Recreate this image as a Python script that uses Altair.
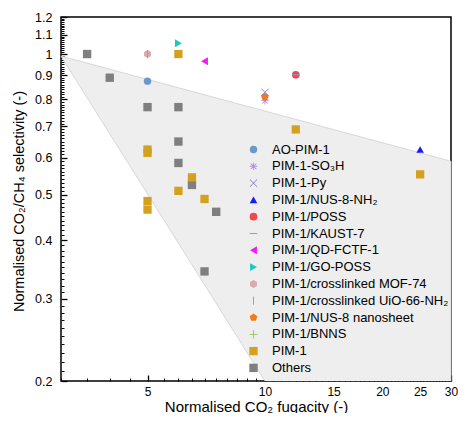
import altair as alt
import pandas as pd

# ---------------- data ----------------
cats = ["AO-PIM-1", "PIM-1-SO₃H", "PIM-1-Py", "PIM-1/NUS-8-NH₂", "PIM-1/POSS",
        "PIM-1/KAUST-7", "PIM-1/QD-FCTF-1", "PIM-1/GO-POSS", "PIM-1/crosslinked MOF-74",
        "PIM-1/crosslinked UiO-66-NH₂", "PIM-1/NUS-8 nanosheet", "PIM-1/BNNS", "PIM-1", "Others"]

others_x = [3.5, 4.0, 5.0, 6.0, 6.0, 6.0, 6.5, 7.5, 7.0]
others_y = [1.0, 0.89, 0.77, 0.77, 0.65, 0.585, 0.525, 0.46, 0.343]

pim1_x = [5, 5, 5, 5, 6, 6, 6.5, 7, 12, 25]
pim1_y = [0.625, 0.615, 0.485, 0.465, 1.0, 0.51, 0.545, 0.49, 0.69, 0.553]

single_cat = ["AO-PIM-1", "PIM-1/crosslinked MOF-74", "PIM-1/crosslinked UiO-66-NH₂",
              "PIM-1/GO-POSS", "PIM-1/QD-FCTF-1", "PIM-1-SO₃H", "PIM-1/NUS-8 nanosheet",
              "PIM-1-Py", "PIM-1/POSS", "PIM-1/KAUST-7", "PIM-1/NUS-8-NH₂"]
single_x = [5, 5, 5, 6, 7, 10, 10, 10, 12, 12, 25]
single_y = [0.875, 1.0, 1.0, 1.055, 0.965, 0.795, 0.81, 0.828, 0.903, 0.903, 0.625]

# shaded region vertices (drawing order)
poly_x = [10, 3, 30, 30]
poly_y = [0.2, 0.99, 0.59, 0.2]

x_major = [5, 10, 15, 20, 25, 30]
y_major = [0.2, 0.3, 0.4, 0.5, 0.6, 0.7, 0.8, 0.9, 1.0, 1.1, 1.2]

# ---------------- tables ----------------
pts = pd.DataFrame({
    "x": others_x + pim1_x + single_x,
    "y": others_y + pim1_y + single_y,
    "cat": ["Others"] * len(others_x) + ["PIM-1"] * len(pim1_x) + single_cat,
})
poly = pd.DataFrame({"x": poly_x, "y": poly_y, "i": list(range(len(poly_x)))})

x_minor = [v / 2 for v in range(6, 61) if (v / 2) not in x_major]
y_minor = [round(v / 100, 2) for v in range(21, 120) if v % 10 != 0]

# ---------------- styles ----------------
F = "Liberation Sans"
colors = ["#6a98c8", "#b48ee8", "#7b7bc0", "#1a1aff", "#ec4a4f", "#78a6e0", "#f21bf2",
          "#1bc6c6", "#d9aab0", "#b5a84a", "#f07a1e", "#8dc63f", "#d4a11e", "#7f7f7f"]

ast = ("M-0.12,-1L0.12,-1L0.12,1L-0.12,1Z M-1,-0.12L1,-0.12L1,0.12L-1,0.12Z "
       "M-0.835,-0.665L-0.665,-0.835L0.835,0.665L0.665,0.835Z "
       "M0.665,-0.835L0.835,-0.665L-0.665,0.835L-0.835,0.665Z")
xmark = "M-1,-0.88L-0.88,-1L1,0.88L0.88,1Z M0.88,-1L1,-0.88L-0.88,1L-1,0.88Z"
dash = "M-1,-0.13L1,-0.13L1,0.13L-1,0.13Z"
vbar = "M-0.13,-1L0.13,-1L0.13,1L-0.13,1Z"
plus = "M-0.1,-1L0.1,-1L0.1,1L-0.1,1Z M-1,-0.1L1,-0.1L1,0.1L-1,0.1Z"
hexa = "M0,-1L0.866,-0.5L0.866,0.5L0,1L-0.866,0.5L-0.866,-0.5Z"
penta = "M0,-1L0.951,-0.309L0.588,0.809L-0.588,0.809L-0.951,-0.309Z"
shapes = ["circle", ast, xmark, "triangle-up", "circle", dash, "triangle-left",
          "triangle-right", hexa, vbar, penta, plus, "square", "square"]
sizes = [55, 70, 85, 75, 65, 70, 80, 80, 85, 70, 85, 70, 56, 49]

xscale = alt.Scale(type="log", domain=[3, 30], nice=False)
yscale = alt.Scale(type="log", domain=[0.2, 1.2], nice=False)

minor_x_axis = alt.Axis(values=x_minor, labels=False, domain=False, grid=False, orient="bottom",
                        tickSize={"expr": "-3"}, tickWidth=1, tickColor="black")
minor_y_axis = alt.Axis(values=y_minor, labels=False, domain=False, grid=False, orient="left",
                        tickSize={"expr": "-3"}, tickWidth=1, tickColor="black")

major_x_axis = alt.Axis(values=x_major, format="d", domain=False, grid=False, orient="bottom",
                        tickSize={"expr": "-6"}, tickWidth=1.3, tickColor="black",
                        labelPadding=11, labelFont=F, labelFontSize=12, labelColor="black",
                        labelFlush=False, labelOverlap=False,
                        title="Normalised CO₂ fugacity (-)", titleFont=F, titleFontSize=15,
                        titleFontWeight="normal", titleColor="black", titleY=25,
                        titleBaseline="middle")
major_y_axis = alt.Axis(values=y_major, format="~g", domain=False, grid=False, orient="left",
                        tickSize={"expr": "-6"}, tickWidth=1.3, tickColor="black",
                        labelPadding=15, labelFont=F, labelFontSize=12.5, labelColor="black",
                        labelFlush=False, labelOverlap=False,
                        title="Normalised CO₂/CH₄ selectivity (-)", titleFont=F, titleFontSize=14.5,
                        titleFontWeight="normal", titleColor="black", titleX=-42, titleY=184,
                        titleBaseline="middle")

legend = alt.Legend(title=None, orient="none", legendX=186, legendY=126,
                    labelFont=F, labelFontSize=13, labelColor="black", labelOffset=12,
                    labelLimit=300, rowPadding=2.8, symbolSize=70, symbolStrokeWidth=0,
                    symbolOpacity=1)

region = alt.Chart(poly).mark_line(fill="#eeeeee", stroke="#cfcfcf", strokeWidth=0.8).encode(
    x=alt.X("x:Q", scale=xscale, axis=minor_x_axis, title=None),
    y=alt.Y("y:Q", scale=yscale, axis=minor_y_axis, title=None),
    order=alt.Order("i:Q"),
)

points = alt.Chart(pts).mark_point(filled=True, opacity=1, strokeWidth=0).encode(
    x=alt.X("x:Q", scale=xscale, axis=major_x_axis),
    y=alt.Y("y:Q", scale=yscale, axis=major_y_axis),
    color=alt.Color("cat:N", scale=alt.Scale(domain=cats, range=colors), legend=legend),
    shape=alt.Shape("cat:N", scale=alt.Scale(domain=cats, range=shapes), legend=legend),
    size=alt.Size("cat:N", scale=alt.Scale(domain=cats, range=sizes), legend=None),
)

chart = alt.layer(region, points).resolve_axis(x="independent", y="independent").properties(
    width=390, height=364,
    autosize=alt.AutoSizeParams(type="none"),
    padding={"left": 53, "top": 9, "right": 7, "bottom": 32},
).configure_view(stroke="black", strokeWidth=1.5)

chart.save("out.html", embed_options={"renderer": "svg", "actions": False})
